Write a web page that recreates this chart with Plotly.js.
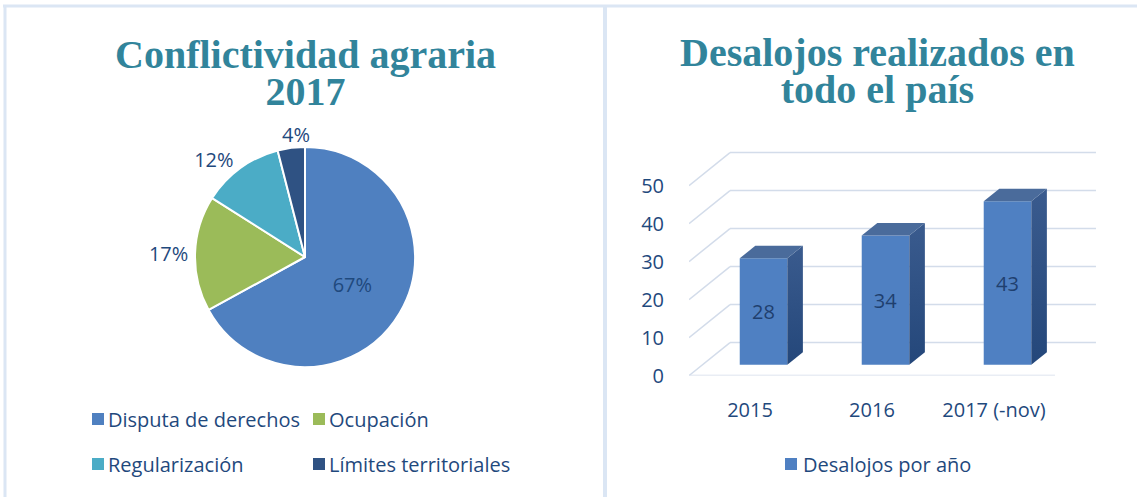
<!DOCTYPE html>
<html>
<head>
<meta charset="utf-8">
<script src="https://cdn.plot.ly/plotly-3.0.1.min.js"></script>
<style>html,body{margin:0;padding:0;background:#fff;}#chart{width:1137px;height:497px;}</style>
</head>
<body>
<div id="chart"></div>
<script>
// ---- data ----
const pieTitle1 = 'Conflictividad agraria';
const pieTitle2 = '2017';
const pieLabels = ['Disputa de derechos', 'Ocupación', 'Regularización', 'Límites territoriales'];
const pieValues = [67, 17, 12, 4];

const barTitle1 = 'Desalojos realizados en';
const barTitle2 = 'todo el país';
const years = ['2015', '2016', '2017 (-nov)'];
const evictions = [28, 34, 43];
const seriesName = 'Desalojos por año';
const yTicks = [0, 10, 20, 30, 40, 50];

// ---- style ----
const pieColors = ['#4f80c0', '#9bbb59', '#4bacc6', '#2f5283'];
const textColor = '#1f497d';
const titleColor = '#31849b';
const gridColor = '#d3dcea';
const frontColor = '#4f80c2';
const topColor = '#4a6b9b';
const W = 1137, H = 497;
const px = v => v / W;
const py = v => 1 - v / H;
const font = 'Open Sans, Noto Sans, sans-serif';
const serif = 'Liberation Serif, Times New Roman, serif';

// pie geometry (pixels)
const pieCx = 305, pieCy = 257, pieR = 110;

// 3D projection constants (in data units)
const Dx = 0.336, Dy = 8.68, f1 = 0.33, f2 = 0.71, bw = 0.39;

const traces = [];

// pie: the smallest slice's label is placed by annotation to avoid a leader line
const pieSum = pieValues.reduce((a, b) => a + b, 0);
const pos = pieValues.map((v, i) => i === 0 ? 'inside' : (i === pieValues.length - 1 ? 'none' : 'outside'));
traces.push({
  type: 'pie',
  labels: pieLabels,
  values: pieValues,
  sort: false,
  direction: 'clockwise',
  rotation: 0,
  marker: {colors: pieColors, line: {color: '#ffffff', width: 2}},
  textinfo: 'percent',
  textposition: pos,
  insidetextorientation: 'horizontal',
  textfont: {family: font, size: 20, color: textColor},
  domain: {x: [px(pieCx - pieR), px(pieCx + pieR)], y: [py(pieCy + pieR), py(pieCy - pieR)]},
  showlegend: false,
  hoverinfo: 'label+percent'
});

// bar side and top faces (derived from values)
evictions.forEach((v, i) => {
  const xl = i + f1 * Dx - bw / 2;
  const xr = i + f1 * Dx + bw / 2;
  const ddx = (f2 - f1) * Dx;
  const y0 = f1 * Dy, y0b = f2 * Dy;
  traces.push({
    type: 'scatter', mode: 'lines', xaxis: 'x', yaxis: 'y',
    x: [xr, xr, xr + ddx, xr + ddx, xr],
    y: [y0, v + y0, v + y0b, y0b, y0],
    fill: 'toself',
    fillcolor: '#2f5285',
    fillgradient: {type: 'vertical', colorscale: [[0, '#24477a'], [1, '#3a5b8e']]},
    line: {width: 0, color: 'rgba(0,0,0,0)'},
    showlegend: false, hoverinfo: 'skip'
  });
  traces.push({
    type: 'scatter', mode: 'lines', xaxis: 'x', yaxis: 'y',
    x: [xl, xr, xr + ddx, xl + ddx, xl],
    y: [v + y0, v + y0, v + y0b, v + y0b, v + y0],
    fill: 'toself',
    fillcolor: topColor,
    line: {width: 0, color: 'rgba(0,0,0,0)'},
    showlegend: false, hoverinfo: 'skip'
  });
});

// bar front faces
traces.push({
  type: 'bar',
  name: seriesName,
  x: evictions.map((v, i) => i + f1 * Dx),
  y: evictions,
  base: evictions.map(() => f1 * Dy),
  width: bw,
  marker: {color: frontColor, line: {width: 0}},
  text: evictions.map(String),
  textposition: 'inside',
  insidetextanchor: 'middle',
  textangle: 0,
  constraintext: 'none',
  textfont: {family: font, size: 20, color: '#1f3f6e'},
  xaxis: 'x', yaxis: 'y',
  showlegend: false
});

// gridline shapes derived from ticks
const shapes = [];
yTicks.forEach(v => {
  shapes.push({type: 'line', xref: 'x', yref: 'y', layer: 'below',
    x0: -0.5 + Dx, x1: 2.5 + Dx, y0: v + Dy, y1: v + Dy,
    line: {color: gridColor, width: 1.5}});
  shapes.push({type: 'line', xref: 'x', yref: 'y', layer: 'below',
    x0: -0.5, x1: -0.5 + Dx, y0: v, y1: v + Dy,
    line: {color: gridColor, width: 1.5}});
});
shapes.push({type: 'line', xref: 'x', yref: 'y', layer: 'below',
  x0: -0.5, x1: 2.5, y0: 0, y1: 0, line: {color: gridColor, width: 1.5}});

// frame
const frame = '#dbe6f4';
shapes.push({type: 'line', xref: 'paper', yref: 'paper', x0: px(3), x1: px(1137), y0: py(6), y1: py(6), line: {color: frame, width: 3}});
shapes.push({type: 'line', xref: 'paper', yref: 'paper', x0: px(5), x1: px(5), y0: py(5), y1: py(497), line: {color: frame, width: 3}});
shapes.push({type: 'line', xref: 'paper', yref: 'paper', x0: px(605), x1: px(605), y0: py(5), y1: py(497), line: {color: frame, width: 4}});

const annotations = [];

// label of the smallest slice, from its mid angle
{
  const last = pieValues.length - 1;
  const before = pieValues.slice(0, last).reduce((a, b) => a + b, 0);
  const mid = (before + pieValues[last] / 2) / pieSum * 2 * Math.PI;
  const R = pieR + 13;
  const lx = pieCx + R * Math.sin(mid) + 6;
  const ly = pieCy - R * Math.cos(mid);
  annotations.push({xref: 'paper', yref: 'paper', x: px(lx), y: py(ly),
    xanchor: 'center', yanchor: 'middle', showarrow: false,
    text: Math.round(pieValues[last] / pieSum * 100) + '%',
    font: {family: font, size: 20, color: textColor}});
}

// manual legends
const legPos = [[92, 419], [313, 419], [92, 464], [313, 464]];
pieLabels.forEach((lab, i) => {
  const [lx, ly] = legPos[i];
  shapes.push({type: 'rect', xref: 'paper', yref: 'paper',
    x0: px(lx), x1: px(lx + 12), y0: py(ly - 6), y1: py(ly + 6),
    fillcolor: pieColors[i], line: {width: 0}});
  annotations.push({xref: 'paper', yref: 'paper', x: px(lx + 14), y: py(ly),
    xanchor: 'left', yanchor: 'middle', showarrow: false, text: lab,
    font: {family: font, size: 20, color: textColor}});
});
shapes.push({type: 'rect', xref: 'paper', yref: 'paper',
  x0: px(785), x1: px(797), y0: py(458), y1: py(470),
  fillcolor: frontColor, line: {width: 0}});
annotations.push({xref: 'paper', yref: 'paper', x: px(801), y: py(464),
  xanchor: 'left', yanchor: 'middle', showarrow: false, text: seriesName,
  font: {family: font, size: 20, color: textColor}});

// titles: one text element each, tight line spacing
const big = s => '<span style="font-size:40px"><b>' + s + '</b></span>';
const tfont = {family: serif, size: 28.5, color: titleColor};
annotations.push({xref: 'paper', yref: 'paper', x: px(305), y: py(73), xanchor: 'center', yanchor: 'middle', showarrow: false,
  text: big(pieTitle1) + '<br>' + big(pieTitle2), font: tfont});
annotations.push({xref: 'paper', yref: 'paper', x: px(877), y: py(71), xanchor: 'center', yanchor: 'middle', showarrow: false,
  text: big(barTitle1) + '<br>' + big(barTitle2), font: tfont});

const layout = {
  width: W, height: H,
  margin: {l: 0, r: 0, t: 0, b: 0},
  paper_bgcolor: '#ffffff', plot_bgcolor: 'rgba(0,0,0,0)',
  showlegend: false,
  xaxis: {
    domain: [px(689), px(1100)], range: [-0.5, 2.869],
    tickvals: [0, 1, 2], ticktext: years,
    showgrid: false, zeroline: false, showline: false,
    ticks: 'outside', ticklen: 16, tickcolor: 'rgba(0,0,0,0)',
    tickfont: {family: font, size: 20, color: textColor},
    fixedrange: true
  },
  yaxis: {
    domain: [py(375.6), py(140)], range: [0, 62],
    tickvals: yTicks,
    showgrid: false, zeroline: false, showline: false,
    ticks: 'outside', ticklen: 20, tickcolor: 'rgba(0,0,0,0)',
    tickfont: {family: font, size: 20, color: textColor},
    fixedrange: true
  },
  shapes: shapes,
  annotations: annotations
};

Plotly.newPlot('chart', traces, layout, {displayModeBar: false, staticPlot: true});
</script>
</body>
</html>
